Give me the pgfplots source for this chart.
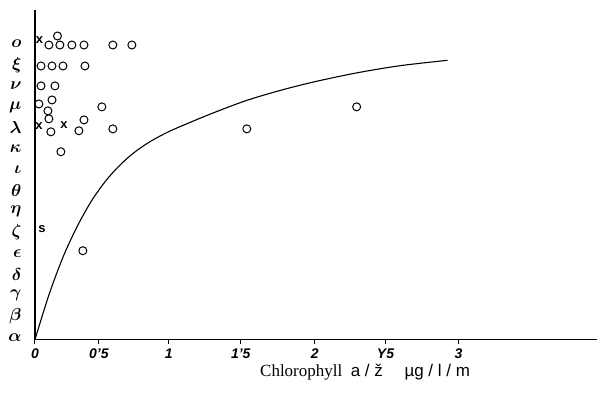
\documentclass[border=0pt]{standalone}
\usepackage{fontspec}
\setmainfont{Liberation Serif}
\setsansfont{Liberation Sans}
\usepackage{pgfplots}
\pgfplotsset{compat=1.18}

\begin{document}
\begin{tikzpicture}
\begin{axis}[
  scale only axis,
  width=563pt, height=330pt,
  xmin=0, xmax=3.993,
  ymin=-0.1, ymax=15.62,
  axis lines=left,
  axis line style={line width=1.3pt, -},
  clip=false,
  xtick={0,0.454,0.950,1.461,1.986,2.489,3.007},
  xticklabels={0,0'5,1,1'5,2,Y5,3},
  xticklabel style={font=\fontsize{14}{14}\selectfont\sffamily\bfseries\itshape, yshift=-2pt},
  x tick style={line width=1pt, black},
  tick align=outside,
  major tick length=4pt,
  ytick={0,1,...,14},
  yticklabels={$\alpha$,$\beta$,$\gamma$,$\delta$,$\epsilon$,$\zeta$,$\eta$,$\theta$,$\iota$,$\kappa$,$\lambda$,$\mu$,$\nu$,$\xi$,$o$},
  yticklabel style={font=\fontsize{17}{17}\selectfont\boldmath, xshift=-6pt},
  y tick style={draw=none},
  xlabel={Chlorophyll\ \ {\sffamily a / ž\quad\ µg / l / m}},
  xlabel style={font=\fontsize{17}{17}\selectfont, xshift=49pt, yshift=2pt},
]
% fitted curve
\addplot[black, line width=1.1pt, smooth] coordinates {
  (0,-0.1) (0.1,2.05) (0.2,3.85) (0.3,5.3) (0.4,6.5) (0.5,7.45)
  (0.6,8.2) (0.7,8.8) (0.8,9.27) (0.9,9.65) (1.0,9.97)
  (1.25,10.67) (1.5,11.3) (1.75,11.8) (2.0,12.22) (2.3,12.64)
  (2.6,12.97) (2.93,13.22)
};
% circles
\addplot[only marks, mark=o, mark size=4pt, line width=1pt, black] coordinates {
  (0.099,13.95) (0.177,13.95) (0.262,13.95) (0.348,13.95) (0.553,13.95) (0.688,13.95)
  (0.160,14.38)
  (0.043,12.95) (0.121,12.95) (0.199,12.95) (0.355,12.95)
  (0.043,12.0) (0.142,12.0)
  (0.028,11.14) (0.121,11.33) (0.092,10.81) (0.475,11.0)
  (0.099,10.43)
  (0.113,9.81) (0.348,10.38) (0.312,9.86) (0.553,9.95)
  (0.184,8.86)
  (0.340,4.14)
  (1.504,9.95) (2.284,11.0)
};
% crosses
\addplot[only marks, mark=text, text mark={\fontsize{13}{13}\selectfont\sffamily\bfseries x}] coordinates {
  (0.033,14.17) (0.028,10.1) (0.206,10.14)
};
% s mark
\addplot[only marks, mark=text, text mark={\fontsize{13}{13}\selectfont\sffamily\bfseries s}] coordinates {
  (0.05,5.19)
};
\end{axis}
\path[use as bounding box] (-35pt,-61pt) rectangle (563pt,340pt);
\end{tikzpicture}
\end{document}
